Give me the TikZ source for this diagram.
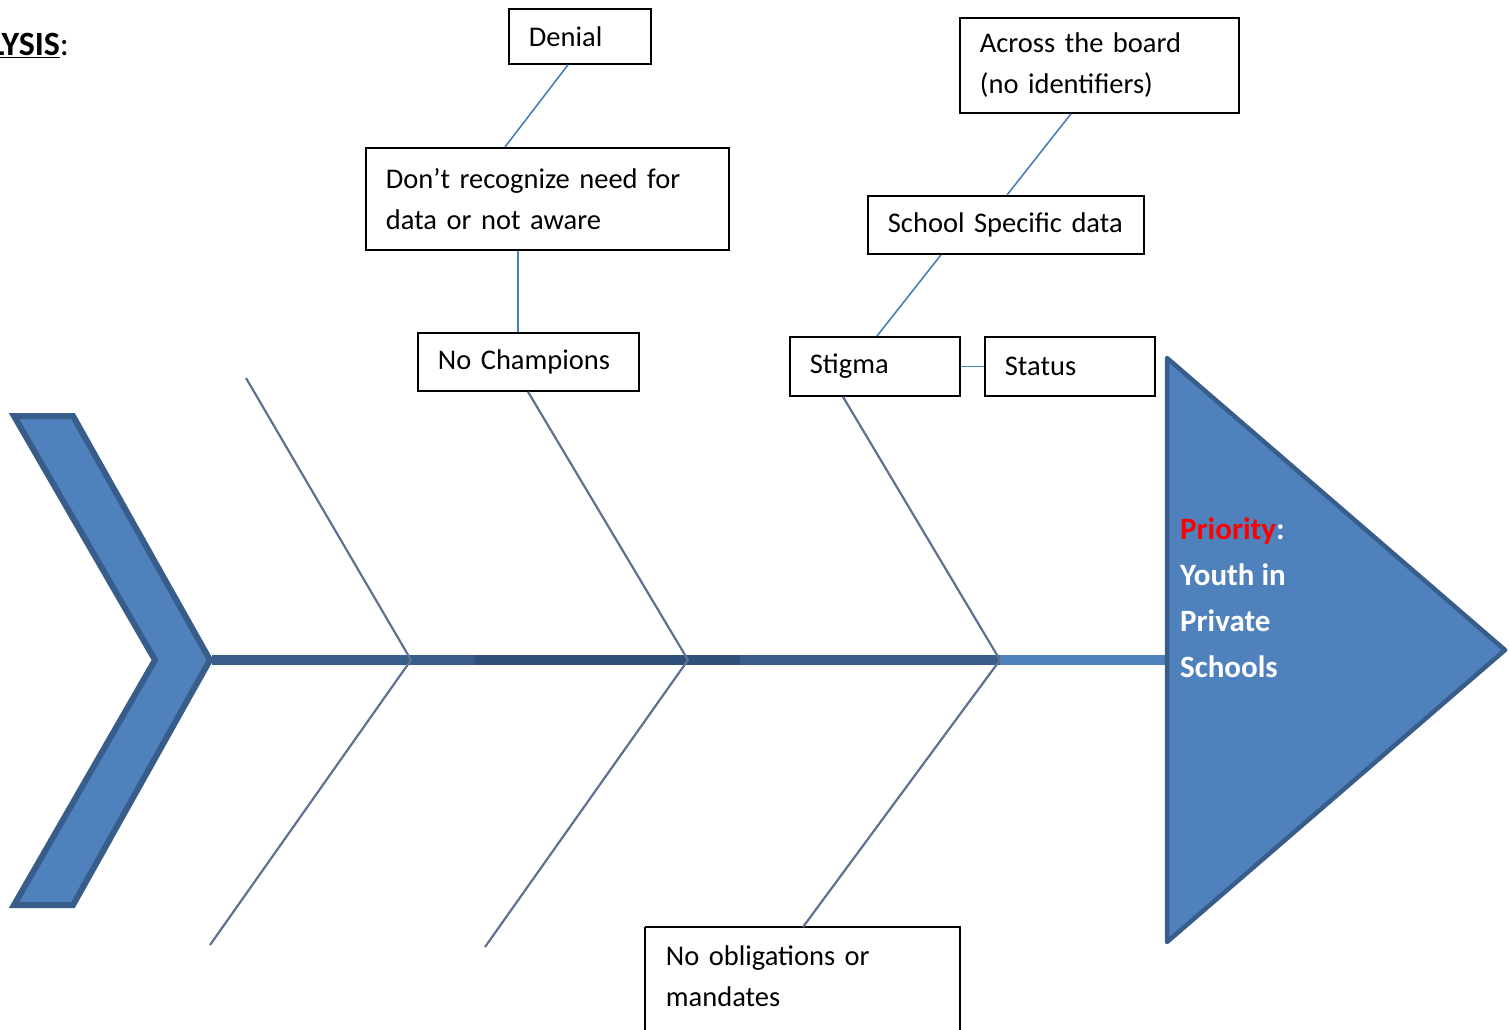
\documentclass[tikz,border=0pt]{standalone}
\usepackage{fontspec}
\setmainfont{Carlito}
\definecolor{fishfill}{HTML}{4F81BD}
\definecolor{fishedge}{HTML}{385D8A}
\definecolor{fishdark}{HTML}{2F5078}
\definecolor{linkblue}{HTML}{4A7EBB}
\definecolor{bonegray}{HTML}{5F7190}
\begin{document}
\begin{tikzpicture}[x=1pt,y=-1pt,
  cause/.style={draw=black, line width=1.8pt, rectangle, inner xsep=20pt, inner ysep=0pt,
    anchor=north west, align=left, font=\fontsize{28.5}{41}\selectfont},
  link/.style={draw=linkblue, line width=1.6pt},
  bone/.style={draw=bonegray, line width=2.2pt},
  spine/.style={line width=10pt},
]
\useasboundingbox (0,0) rectangle (1509,1030);

% heading (partly cut at the left edge)
\node[anchor=base west, inner sep=0pt, font=\fontsize{34}{38}\selectfont] (head) at (-10,56)
  {\underline{\textbf{LYSIS}}:};

% spine
\draw[spine, draw=fishedge] (212,660) -- (475,660);
\draw[spine, draw=fishdark] (475,660) -- (740,660);
\draw[spine, draw=fishedge] (740,660) -- (1000,660);
\draw[spine, draw=fishfill] (1000,660) -- (1168,660);

% tail chevron
\draw[fill=fishfill, draw=fishedge, line width=6pt, line join=miter]
  (14,416) -- (73,416) -- (210,660) -- (73,905) -- (14,905) -- (155,660) -- cycle;

% head triangle
\draw[fill=fishfill, draw=fishedge, line width=4.5pt, line join=round]
  (1167,358) -- (1505,650) -- (1167,942) -- cycle;
\node[anchor=base west, inner sep=0pt, align=left, text=white,
  font=\bfseries\fontsize{31}{46}\selectfont] (effect) at (1180,677)
  {\textcolor{red}{Priority}:\\Youth in\\Private\\Schools};

% joints on the spine and free bone ends
\coordinate (j1) at (411,660);
\coordinate (j2) at (688,660);
\coordinate (j3) at (1000,660);
\coordinate (t1) at (246,378);
\coordinate (b1) at (210,945);
\coordinate (b2) at (485,947);

% cause boxes
\node[cause, minimum width=142pt, minimum height=55pt, text width=102pt] (denial) at (508,8) {Denial};
\node[cause, minimum width=363pt, minimum height=102pt, text width=323pt] (aware) at (365,147)
  {Don’t recognize need for\\data or not aware};
\node[cause, minimum width=221pt, minimum height=58pt, text width=181pt] (champ) at (417,332) {No Champions};
\node[cause, minimum width=279pt, minimum height=95pt, text width=239pt] (board) at (959,17)
  {Across the board\\(no identifiers)};
\node[cause, minimum width=276pt, minimum height=58pt, text width=236pt] (school) at (867,195) {School Specific data};
\node[cause, minimum width=170pt, minimum height=59pt, text width=130pt] (stigma) at (789,336) {Stigma};
\node[cause, minimum width=170pt, minimum height=59pt, text width=130pt] (status) at (984,336) {Status};
\node[cause, draw=none, minimum width=313pt, minimum height=97pt, text width=273pt] (oblig) at (645,927)
  {No obligations or\\mandates};
\draw[line width=1.8pt] (oblig.north west) -- (oblig.north east) -- ([yshift=-40pt]oblig.south east);
\draw[line width=1.8pt] (oblig.north west) -- ([yshift=-40pt]oblig.south west);

% bones
\draw[bone] (t1) -- (j1) -- (b1);
\draw[bone] ([xshift=111pt]champ.south west) -- (j2) -- (b2);
\draw[bone] ([xshift=54pt]stigma.south west) -- (j3) -- ([xshift=158pt]oblig.north west);

% sub-cause links
\draw[link] ([xshift=60pt]denial.south west) -- ([xshift=140pt]aware.north west);
\draw[link] ([xshift=153pt]aware.south west) -- ([xshift=101pt]champ.north west);
\draw[link] ([xshift=112pt]board.south west) -- ([xshift=140pt]school.north west);
\draw[link] ([xshift=74pt]school.south west) -- ([xshift=88pt]stigma.north west);
\draw[link] (stigma.east) -- (status.west);
\end{tikzpicture}
\end{document}
